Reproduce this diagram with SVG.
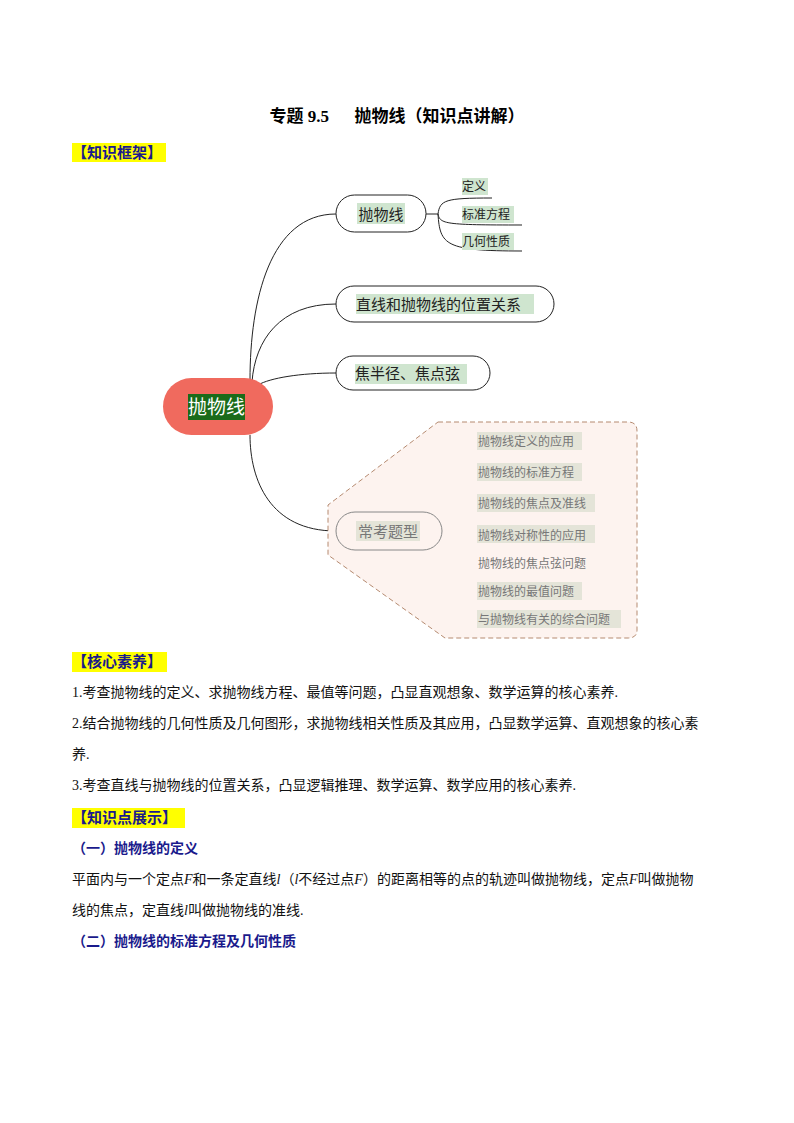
<svg xmlns="http://www.w3.org/2000/svg" width="794" height="1123" viewBox="0 0 794 1123">
<style>
.t{font-family:"Liberation Serif","Noto Sans CJK SC",serif;font-size:14px;fill:#111}
.h{font-family:"Liberation Serif","Noto Sans CJK SC",serif;font-size:15px;font-weight:bold;fill:#1a1a8c}
.s{font-family:"Liberation Serif","Noto Sans CJK SC",serif;font-size:14px;font-weight:bold;fill:#1a1a8c}
.m{font-family:"Noto Sans CJK SC",sans-serif;fill:#222}
.g{font-family:"Noto Sans CJK SC",sans-serif;fill:#777;font-size:12px}
.pill{fill:#fff;stroke:#222;stroke-width:1}
.c{fill:none;stroke:#222;stroke-width:1}
.hl{fill:#cfe5cf}
.hg{fill:#e4e4d8}
</style>
<rect width="794" height="1123" fill="#fff"/>
<text x="397" y="122" text-anchor="middle" font-family="Liberation Serif,Noto Sans CJK SC,serif" font-size="17" font-weight="bold" xml:space="preserve">专题 9.5      抛物线（知识点讲解）</text>
<rect x="72" y="143" width="94" height="19" fill="#ffff00"/>
<text x="72" y="158" class="h">【知识框架】</text>

<g id="connectors">
<path class="c" d="M250,380 C250,300 270,214 336,214"/>
<path class="c" d="M252,382 C255,340 280,304 336,304"/>
<path class="c" d="M258,385 C270,378 300,373 336,373"/>
<path class="c" d="M250,435 C250,480 270,531 336,531"/>
<path class="c" d="M426,214 H438 M438,214 C440,200 445,198 492,198 M438,214 C440,224 445,225 522,225 M438,214 C440,245 445,251 522,251"/>
<path class="c" d="M442,531 H455 M455,531 C458,460 462,454 540,454 M455,531 C458,490 462,485 540,485 M455,531 C458,520 462,516 554,516 M455,531 C458,540 462,547 554,547 M455,531 C458,570 462,575 554,575 M455,531 C458,598 462,602 540,602 M455,531 C458,628 462,632 620,632"/>
</g>

<g id="root">
<rect x="163" y="378" width="110" height="57" rx="28.5" fill="#f06a5e"/>
<rect x="188" y="394" width="57" height="26" fill="#1a6b1a"/>
<text x="216.5" y="414" text-anchor="middle" class="m" font-size="19" fill="#fff" style="fill:#fff">抛物线</text>
</g>

<g id="n1">
<rect x="336" y="195" width="90" height="37" rx="18.5" class="pill"/>
<rect x="357" y="203" width="48" height="21" class="hl"/>
<text x="381" y="220" text-anchor="middle" class="m" font-size="15">抛物线</text>
</g>
<g id="n1a"><rect x="462" y="178" width="26" height="17" class="hl"/><text x="462" y="191" class="m" font-size="12">定义</text></g>
<g id="n1b"><rect x="462" y="206" width="52" height="17" class="hl"/><text x="462" y="219" class="m" font-size="12">标准方程</text></g>
<g id="n1c"><rect x="462" y="233" width="52" height="17" class="hl"/><text x="462" y="246" class="m" font-size="12">几何性质</text></g>

<g id="n2">
<rect x="336" y="286" width="218" height="36" rx="18" class="pill"/>
<rect x="356" y="294" width="178" height="20" class="hl"/>
<text x="356" y="310" class="m" font-size="15">直线和抛物线的位置关系</text>
</g>
<g id="n3">
<rect x="336" y="356" width="154" height="34" rx="17" class="pill"/>
<rect x="355" y="364" width="112" height="20" class="hl"/>
<text x="355" y="379" class="m" font-size="15">焦半径、焦点弦</text>
</g>

<g id="n4">
<path d="M438,422 H628 Q637,422 637,431 V630 Q637,638 628,638 H445 L328,555 V505 Z" fill="#fdf3ef" stroke="#b58a70" stroke-dasharray="5,3"/>
<rect x="336" y="512" width="106" height="38" rx="19" fill="#fdf3ef" stroke="#888"/>
<rect x="356" y="521" width="64" height="20" class="hg"/>
<text x="388" y="537" text-anchor="middle" class="m" font-size="15" style="fill:#777">常考题型</text>
</g>
<g id="i1"><rect x="477" y="432" width="105" height="18" class="hg"/><text x="478" y="446" class="g">抛物线定义的应用</text></g>
<g id="i2"><rect x="477" y="463" width="105" height="18" class="hg"/><text x="478" y="477" class="g">抛物线的标准方程</text></g>
<g id="i3"><rect x="477" y="494" width="118" height="18" class="hg"/><text x="478" y="508" class="g">抛物线的焦点及准线</text></g>
<g id="i4"><rect x="477" y="525" width="118" height="18" class="hg"/><text x="478" y="540" class="g">抛物线对称性的应用</text></g>
<g id="i5"><text x="478" y="568" class="g">抛物线的焦点弦问题</text></g>
<g id="i6"><rect x="477" y="582" width="105" height="18" class="hg"/><text x="478" y="596" class="g">抛物线的最值问题</text></g>
<g id="i7"><rect x="477" y="610" width="144" height="18" class="hg"/><text x="478" y="624" class="g">与抛物线有关的综合问题</text></g>

<rect x="72" y="652" width="95" height="20" fill="#ffff00"/>
<text x="72" y="667" class="h">【核心素养】</text>
<text x="72" y="697" class="t">1.考查抛物线的定义、求抛物线方程、最值等问题，凸显直观想象、数学运算的核心素养.</text>
<text x="72" y="728" class="t">2.结合抛物线的几何性质及几何图形，求抛物线相关性质及其应用，凸显数学运算、直观想象的核心素</text>
<text x="72" y="759" class="t">养.</text>
<text x="72" y="790" class="t">3.考查直线与抛物线的位置关系，凸显逻辑推理、数学运算、数学应用的核心素养.</text>
<rect x="72" y="808" width="113" height="20" fill="#ffff00"/>
<text x="72" y="823" class="h">【知识点展示】</text>
<text x="72" y="853" class="s">（一）抛物线的定义</text>
<text x="72" y="884" class="t">平面内与一个定点<tspan font-style="italic">F</tspan>和一条定直线<tspan font-style="italic">l</tspan>（<tspan font-style="italic">l</tspan>不经过点<tspan font-style="italic">F</tspan>）的距离相等的点的轨迹叫做抛物线，定点<tspan font-style="italic">F</tspan>叫做抛物</text>
<text x="72" y="915" class="t">线的焦点，定直线<tspan font-style="italic">l</tspan>叫做抛物线的准线.</text>
<text x="72" y="946" class="s">（二）抛物线的标准方程及几何性质</text>
</svg>
